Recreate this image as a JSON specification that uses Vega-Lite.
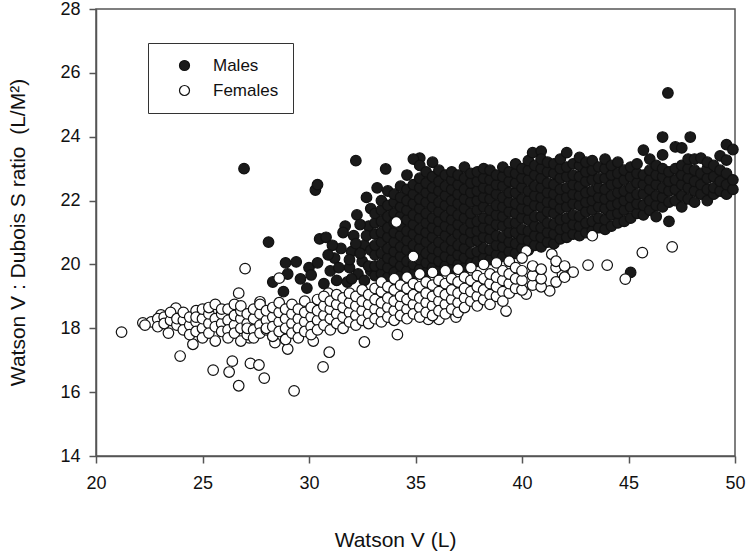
{
"$schema": "https://vega.github.io/schema/vega-lite/v6.json",
"width": 639, "height": 447,
"autosize": {"type": "none"},
"padding": {"left": 96, "top": 9, "right": 15, "bottom": 99},
"config": {"view": {"stroke": "#555", "strokeWidth": 1.5}, "font": "Liberation Sans"},
"datasets": {"pts": [
{"sex":"Males","v":26.95,"r":23.0},{"sex":"Males","v":28.1,"r":20.7},{"sex":"Males","v":28.3,"r":19.45},{"sex":"Males","v":28.8,"r":19.15},{"sex":"Males","v":28.9,"r":20.05},{"sex":"Males","v":29.0,"r":19.7},{"sex":"Males","v":29.4,"r":20.08},{"sex":"Males","v":29.6,"r":19.55},{"sex":"Males","v":29.9,"r":19.26},{"sex":"Males","v":30.0,"r":19.9},{"sex":"Males","v":30.1,"r":19.67},{"sex":"Males","v":30.3,"r":22.33},{"sex":"Males","v":30.4,"r":22.5},{"sex":"Males","v":30.4,"r":20.05},{"sex":"Males","v":30.5,"r":20.8},{"sex":"Males","v":30.8,"r":20.85},{"sex":"Males","v":30.7,"r":19.4},{"sex":"Males","v":31.0,"r":19.8},{"sex":"Males","v":31.2,"r":20.2},{"sex":"Males","v":31.3,"r":19.5},{"sex":"Males","v":31.5,"r":20.5},{"sex":"Males","v":31.7,"r":21.2},{"sex":"Males","v":31.6,"r":21.0},{"sex":"Males","v":31.8,"r":19.45},{"sex":"Males","v":31.9,"r":19.9},{"sex":"Males","v":32.0,"r":20.4},{"sex":"Males","v":32.1,"r":20.9},{"sex":"Males","v":32.2,"r":23.25},{"sex":"Males","v":32.25,"r":21.55},{"sex":"Males","v":32.3,"r":19.7},{"sex":"Males","v":32.5,"r":20.1},{"sex":"Males","v":32.6,"r":20.6},{"sex":"Males","v":32.7,"r":22.1},{"sex":"Males","v":32.8,"r":21.2},{"sex":"Males","v":32.9,"r":19.8},{"sex":"Males","v":32.9,"r":21.75},{"sex":"Males","v":33.2,"r":22.4},{"sex":"Males","v":33.6,"r":22.99},{"sex":"Males","v":35.2,"r":23.33},{"sex":"Males","v":35.8,"r":23.2},
{"sex":"Males","v":31.1,"r":20.6},{"sex":"Males","v":31.4,"r":19.9},{"sex":"Males","v":32.0,"r":19.55},{"sex":"Males","v":32.4,"r":20.35},{"sex":"Males","v":32.6,"r":19.5},{"sex":"Males","v":32.7,"r":20.9},{"sex":"Males","v":32.9,"r":20.45},{"sex":"Males","v":32.4,"r":21.25},{"sex":"Males","v":31.9,"r":20.15},{"sex":"Males","v":30.9,"r":20.3},{"sex":"Males","v":32.8,"r":19.95},{"sex":"Males","v":32.2,"r":20.65},
{"sex":"Males","v":33.1,"r":19.65},{"sex":"Males","v":33.1,"r":19.95},{"sex":"Males","v":33.1,"r":20.3},{"sex":"Males","v":33.1,"r":20.6},{"sex":"Males","v":33.1,"r":20.95},{"sex":"Males","v":33.1,"r":21.3},{"sex":"Males","v":33.1,"r":21.6},
{"sex":"Males","v":33.4,"r":19.7},{"sex":"Males","v":33.4,"r":20.0},{"sex":"Males","v":33.4,"r":20.35},{"sex":"Males","v":33.4,"r":20.7},{"sex":"Males","v":33.4,"r":21.0},{"sex":"Males","v":33.4,"r":21.35},{"sex":"Males","v":33.4,"r":21.7},{"sex":"Males","v":33.4,"r":22.0},
{"sex":"Males","v":33.7,"r":19.6},{"sex":"Males","v":33.7,"r":19.9},{"sex":"Males","v":33.7,"r":20.2},{"sex":"Males","v":33.7,"r":20.5},{"sex":"Males","v":33.7,"r":20.85},{"sex":"Males","v":33.7,"r":21.15},{"sex":"Males","v":33.7,"r":21.5},{"sex":"Males","v":33.7,"r":21.85},{"sex":"Males","v":33.7,"r":22.3},
{"sex":"Males","v":34.0,"r":19.75},{"sex":"Males","v":34.0,"r":20.1},{"sex":"Males","v":34.0,"r":20.4},{"sex":"Males","v":34.0,"r":20.7},{"sex":"Males","v":34.0,"r":21.0},{"sex":"Males","v":34.0,"r":21.3},{"sex":"Males","v":34.0,"r":21.6},{"sex":"Males","v":34.0,"r":21.95},{"sex":"Males","v":34.0,"r":22.2},
{"sex":"Males","v":34.3,"r":19.65},{"sex":"Males","v":34.3,"r":19.95},{"sex":"Males","v":34.3,"r":20.25},{"sex":"Males","v":34.3,"r":20.55},{"sex":"Males","v":34.3,"r":20.9},{"sex":"Males","v":34.3,"r":21.2},{"sex":"Males","v":34.3,"r":21.5},{"sex":"Males","v":34.3,"r":21.8},{"sex":"Males","v":34.3,"r":22.1},{"sex":"Males","v":34.3,"r":22.45},
{"sex":"Males","v":34.6,"r":19.8},{"sex":"Males","v":34.6,"r":20.1},{"sex":"Males","v":34.6,"r":20.45},{"sex":"Males","v":34.6,"r":20.75},{"sex":"Males","v":34.6,"r":21.05},{"sex":"Males","v":34.6,"r":21.4},{"sex":"Males","v":34.6,"r":21.7},{"sex":"Males","v":34.6,"r":22.0},{"sex":"Males","v":34.6,"r":22.35},{"sex":"Males","v":34.6,"r":22.8},
{"sex":"Males","v":34.9,"r":19.7},{"sex":"Males","v":34.9,"r":20.0},{"sex":"Males","v":34.9,"r":20.3},{"sex":"Males","v":34.9,"r":20.6},{"sex":"Males","v":34.9,"r":20.95},{"sex":"Males","v":34.9,"r":21.25},{"sex":"Males","v":34.9,"r":21.55},{"sex":"Males","v":34.9,"r":21.9},{"sex":"Males","v":34.9,"r":22.2},{"sex":"Males","v":34.9,"r":22.5},{"sex":"Males","v":34.9,"r":23.3},
{"sex":"Males","v":35.2,"r":19.85},{"sex":"Males","v":35.2,"r":20.15},{"sex":"Males","v":35.2,"r":20.5},{"sex":"Males","v":35.2,"r":20.8},{"sex":"Males","v":35.2,"r":21.1},{"sex":"Males","v":35.2,"r":21.45},{"sex":"Males","v":35.2,"r":21.75},{"sex":"Males","v":35.2,"r":22.05},{"sex":"Males","v":35.2,"r":22.4},{"sex":"Males","v":35.2,"r":22.7},{"sex":"Males","v":35.2,"r":23.1},
{"sex":"Males","v":35.5,"r":19.75},{"sex":"Males","v":35.5,"r":20.05},{"sex":"Males","v":35.5,"r":20.35},{"sex":"Males","v":35.5,"r":20.7},{"sex":"Males","v":35.5,"r":21.0},{"sex":"Males","v":35.5,"r":21.3},{"sex":"Males","v":35.5,"r":21.6},{"sex":"Males","v":35.5,"r":21.95},{"sex":"Males","v":35.5,"r":22.25},{"sex":"Males","v":35.5,"r":22.55},{"sex":"Males","v":35.5,"r":22.9},
{"sex":"Males","v":35.8,"r":19.9},{"sex":"Males","v":35.8,"r":20.2},{"sex":"Males","v":35.8,"r":20.5},{"sex":"Males","v":35.8,"r":20.85},{"sex":"Males","v":35.8,"r":21.15},{"sex":"Males","v":35.8,"r":21.45},{"sex":"Males","v":35.8,"r":21.8},{"sex":"Males","v":35.8,"r":22.1},{"sex":"Males","v":35.8,"r":22.4},{"sex":"Males","v":35.8,"r":22.75},
{"sex":"Males","v":36.1,"r":19.8},{"sex":"Males","v":36.1,"r":20.1},{"sex":"Males","v":36.1,"r":20.4},{"sex":"Males","v":36.1,"r":20.7},{"sex":"Males","v":36.1,"r":21.05},{"sex":"Males","v":36.1,"r":21.35},{"sex":"Males","v":36.1,"r":21.65},{"sex":"Males","v":36.1,"r":21.95},{"sex":"Males","v":36.1,"r":22.3},{"sex":"Males","v":36.1,"r":22.6},{"sex":"Males","v":36.1,"r":22.95},
{"sex":"Males","v":36.4,"r":19.95},{"sex":"Males","v":36.4,"r":20.25},{"sex":"Males","v":36.4,"r":20.55},{"sex":"Males","v":36.4,"r":20.9},{"sex":"Males","v":36.4,"r":21.2},{"sex":"Males","v":36.4,"r":21.5},{"sex":"Males","v":36.4,"r":21.85},{"sex":"Males","v":36.4,"r":22.15},{"sex":"Males","v":36.4,"r":22.45},{"sex":"Males","v":36.4,"r":22.8},
{"sex":"Males","v":36.7,"r":19.85},{"sex":"Males","v":36.7,"r":20.15},{"sex":"Males","v":36.7,"r":20.45},{"sex":"Males","v":36.7,"r":20.75},{"sex":"Males","v":36.7,"r":21.1},{"sex":"Males","v":36.7,"r":21.4},{"sex":"Males","v":36.7,"r":21.7},{"sex":"Males","v":36.7,"r":22.0},{"sex":"Males","v":36.7,"r":22.35},{"sex":"Males","v":36.7,"r":22.65},{"sex":"Males","v":36.7,"r":22.9},
{"sex":"Males","v":37.0,"r":20.0},{"sex":"Males","v":37.0,"r":20.3},{"sex":"Males","v":37.0,"r":20.6},{"sex":"Males","v":37.0,"r":20.95},{"sex":"Males","v":37.0,"r":21.25},{"sex":"Males","v":37.0,"r":21.55},{"sex":"Males","v":37.0,"r":21.9},{"sex":"Males","v":37.0,"r":22.2},{"sex":"Males","v":37.0,"r":22.5},{"sex":"Males","v":37.0,"r":22.8},
{"sex":"Males","v":37.3,"r":19.9},{"sex":"Males","v":37.3,"r":20.2},{"sex":"Males","v":37.3,"r":20.5},{"sex":"Males","v":37.3,"r":20.8},{"sex":"Males","v":37.3,"r":21.1},{"sex":"Males","v":37.3,"r":21.45},{"sex":"Males","v":37.3,"r":21.75},{"sex":"Males","v":37.3,"r":22.05},{"sex":"Males","v":37.3,"r":22.35},{"sex":"Males","v":37.3,"r":22.7},{"sex":"Males","v":37.3,"r":23.05},
{"sex":"Males","v":37.6,"r":20.05},{"sex":"Males","v":37.6,"r":20.35},{"sex":"Males","v":37.6,"r":20.7},{"sex":"Males","v":37.6,"r":21.0},{"sex":"Males","v":37.6,"r":21.3},{"sex":"Males","v":37.6,"r":21.6},{"sex":"Males","v":37.6,"r":21.95},{"sex":"Males","v":37.6,"r":22.25},{"sex":"Males","v":37.6,"r":22.55},{"sex":"Males","v":37.6,"r":22.85},
{"sex":"Males","v":37.9,"r":20.1},{"sex":"Males","v":37.9,"r":20.4},{"sex":"Males","v":37.9,"r":20.75},{"sex":"Males","v":37.9,"r":21.05},{"sex":"Males","v":37.9,"r":21.35},{"sex":"Males","v":37.9,"r":21.7},{"sex":"Males","v":37.9,"r":22.0},{"sex":"Males","v":37.9,"r":22.3},{"sex":"Males","v":37.9,"r":22.6},{"sex":"Males","v":37.9,"r":22.9},
{"sex":"Males","v":38.2,"r":20.2},{"sex":"Males","v":38.2,"r":20.5},{"sex":"Males","v":38.2,"r":20.85},{"sex":"Males","v":38.2,"r":21.15},{"sex":"Males","v":38.2,"r":21.45},{"sex":"Males","v":38.2,"r":21.8},{"sex":"Males","v":38.2,"r":22.1},{"sex":"Males","v":38.2,"r":22.4},{"sex":"Males","v":38.2,"r":22.7},{"sex":"Males","v":38.2,"r":23.0},
{"sex":"Males","v":38.5,"r":20.15},{"sex":"Males","v":38.5,"r":20.45},{"sex":"Males","v":38.5,"r":20.8},{"sex":"Males","v":38.5,"r":21.1},{"sex":"Males","v":38.5,"r":21.4},{"sex":"Males","v":38.5,"r":21.7},{"sex":"Males","v":38.5,"r":22.05},{"sex":"Males","v":38.5,"r":22.35},{"sex":"Males","v":38.5,"r":22.65},{"sex":"Males","v":38.5,"r":22.95},
{"sex":"Males","v":38.8,"r":20.3},{"sex":"Males","v":38.8,"r":20.6},{"sex":"Males","v":38.8,"r":20.9},{"sex":"Males","v":38.8,"r":21.25},{"sex":"Males","v":38.8,"r":21.55},{"sex":"Males","v":38.8,"r":21.85},{"sex":"Males","v":38.8,"r":22.2},{"sex":"Males","v":38.8,"r":22.5},{"sex":"Males","v":38.8,"r":22.8},
{"sex":"Males","v":39.1,"r":20.25},{"sex":"Males","v":39.1,"r":20.55},{"sex":"Males","v":39.1,"r":20.85},{"sex":"Males","v":39.1,"r":21.2},{"sex":"Males","v":39.1,"r":21.5},{"sex":"Males","v":39.1,"r":21.8},{"sex":"Males","v":39.1,"r":22.1},{"sex":"Males","v":39.1,"r":22.45},{"sex":"Males","v":39.1,"r":22.75},{"sex":"Males","v":39.1,"r":23.05},
{"sex":"Males","v":39.4,"r":20.4},{"sex":"Males","v":39.4,"r":20.7},{"sex":"Males","v":39.4,"r":21.0},{"sex":"Males","v":39.4,"r":21.3},{"sex":"Males","v":39.4,"r":21.65},{"sex":"Males","v":39.4,"r":21.95},{"sex":"Males","v":39.4,"r":22.25},{"sex":"Males","v":39.4,"r":22.6},{"sex":"Males","v":39.4,"r":22.9},
{"sex":"Males","v":39.7,"r":20.35},{"sex":"Males","v":39.7,"r":20.65},{"sex":"Males","v":39.7,"r":21.0},{"sex":"Males","v":39.7,"r":21.3},{"sex":"Males","v":39.7,"r":21.6},{"sex":"Males","v":39.7,"r":21.9},{"sex":"Males","v":39.7,"r":22.25},{"sex":"Males","v":39.7,"r":22.55},{"sex":"Males","v":39.7,"r":22.85},{"sex":"Males","v":39.7,"r":23.15},
{"sex":"Males","v":40.0,"r":20.5},{"sex":"Males","v":40.0,"r":20.8},{"sex":"Males","v":40.0,"r":21.1},{"sex":"Males","v":40.0,"r":21.45},{"sex":"Males","v":40.0,"r":21.75},{"sex":"Males","v":40.0,"r":22.05},{"sex":"Males","v":40.0,"r":22.4},{"sex":"Males","v":40.0,"r":22.7},{"sex":"Males","v":40.0,"r":23.0},
{"sex":"Males","v":40.3,"r":20.45},{"sex":"Males","v":40.3,"r":20.75},{"sex":"Males","v":40.3,"r":21.05},{"sex":"Males","v":40.3,"r":21.4},{"sex":"Males","v":40.3,"r":21.7},{"sex":"Males","v":40.3,"r":22.0},{"sex":"Males","v":40.3,"r":22.3},{"sex":"Males","v":40.3,"r":22.65},{"sex":"Males","v":40.3,"r":22.95},{"sex":"Males","v":40.3,"r":23.25},
{"sex":"Males","v":40.5,"r":23.5},{"sex":"Males","v":40.9,"r":23.55},
{"sex":"Males","v":40.6,"r":20.6},{"sex":"Males","v":40.6,"r":20.9},{"sex":"Males","v":40.6,"r":21.2},{"sex":"Males","v":40.6,"r":21.5},{"sex":"Males","v":40.6,"r":21.85},{"sex":"Males","v":40.6,"r":22.15},{"sex":"Males","v":40.6,"r":22.45},{"sex":"Males","v":40.6,"r":22.8},{"sex":"Males","v":40.6,"r":23.1},
{"sex":"Males","v":40.9,"r":20.55},{"sex":"Males","v":40.9,"r":20.85},{"sex":"Males","v":40.9,"r":21.15},{"sex":"Males","v":40.9,"r":21.5},{"sex":"Males","v":40.9,"r":21.8},{"sex":"Males","v":40.9,"r":22.1},{"sex":"Males","v":40.9,"r":22.4},{"sex":"Males","v":40.9,"r":22.7},{"sex":"Males","v":40.9,"r":23.0},{"sex":"Males","v":40.9,"r":23.3},
{"sex":"Males","v":41.2,"r":20.7},{"sex":"Males","v":41.2,"r":21.0},{"sex":"Males","v":41.2,"r":21.3},{"sex":"Males","v":41.2,"r":21.65},{"sex":"Males","v":41.2,"r":21.95},{"sex":"Males","v":41.2,"r":22.25},{"sex":"Males","v":41.2,"r":22.55},{"sex":"Males","v":41.2,"r":22.9},{"sex":"Males","v":41.2,"r":23.2},
{"sex":"Males","v":41.5,"r":20.65},{"sex":"Males","v":41.5,"r":20.95},{"sex":"Males","v":41.5,"r":21.25},{"sex":"Males","v":41.5,"r":21.6},{"sex":"Males","v":41.5,"r":21.9},{"sex":"Males","v":41.5,"r":22.2},{"sex":"Males","v":41.5,"r":22.5},{"sex":"Males","v":41.5,"r":22.85},{"sex":"Males","v":41.5,"r":23.15},
{"sex":"Males","v":41.8,"r":20.8},{"sex":"Males","v":41.8,"r":21.1},{"sex":"Males","v":41.8,"r":21.4},{"sex":"Males","v":41.8,"r":21.75},{"sex":"Males","v":41.8,"r":22.05},{"sex":"Males","v":41.8,"r":22.35},{"sex":"Males","v":41.8,"r":22.7},{"sex":"Males","v":41.8,"r":23.0},{"sex":"Males","v":41.8,"r":23.3},
{"sex":"Males","v":42.1,"r":20.85},{"sex":"Males","v":42.1,"r":21.15},{"sex":"Males","v":42.1,"r":21.45},{"sex":"Males","v":42.1,"r":21.8},{"sex":"Males","v":42.1,"r":22.1},{"sex":"Males","v":42.1,"r":22.4},{"sex":"Males","v":42.1,"r":22.75},{"sex":"Males","v":42.1,"r":23.05},{"sex":"Males","v":42.1,"r":23.5},
{"sex":"Males","v":42.4,"r":20.95},{"sex":"Males","v":42.4,"r":21.25},{"sex":"Males","v":42.4,"r":21.55},{"sex":"Males","v":42.4,"r":21.9},{"sex":"Males","v":42.4,"r":22.2},{"sex":"Males","v":42.4,"r":22.5},{"sex":"Males","v":42.4,"r":22.8},{"sex":"Males","v":42.4,"r":23.15},
{"sex":"Males","v":42.7,"r":20.9},{"sex":"Males","v":42.7,"r":21.2},{"sex":"Males","v":42.7,"r":21.5},{"sex":"Males","v":42.7,"r":21.85},{"sex":"Males","v":42.7,"r":22.15},{"sex":"Males","v":42.7,"r":22.45},{"sex":"Males","v":42.7,"r":22.75},{"sex":"Males","v":42.7,"r":23.1},{"sex":"Males","v":42.7,"r":23.35},
{"sex":"Males","v":43.0,"r":21.0},{"sex":"Males","v":43.0,"r":21.3},{"sex":"Males","v":43.0,"r":21.65},{"sex":"Males","v":43.0,"r":21.95},{"sex":"Males","v":43.0,"r":22.25},{"sex":"Males","v":43.0,"r":22.6},{"sex":"Males","v":43.0,"r":22.9},{"sex":"Males","v":43.0,"r":23.2},
{"sex":"Males","v":43.3,"r":21.05},{"sex":"Males","v":43.3,"r":21.35},{"sex":"Males","v":43.3,"r":21.7},{"sex":"Males","v":43.3,"r":22.0},{"sex":"Males","v":43.3,"r":22.3},{"sex":"Males","v":43.3,"r":22.65},{"sex":"Males","v":43.3,"r":22.95},{"sex":"Males","v":43.3,"r":23.25},
{"sex":"Males","v":43.6,"r":21.15},{"sex":"Males","v":43.6,"r":21.45},{"sex":"Males","v":43.6,"r":21.8},{"sex":"Males","v":43.6,"r":22.1},{"sex":"Males","v":43.6,"r":22.4},{"sex":"Males","v":43.6,"r":22.7},{"sex":"Males","v":43.6,"r":23.05},
{"sex":"Males","v":43.9,"r":21.1},{"sex":"Males","v":43.9,"r":21.4},{"sex":"Males","v":43.9,"r":21.75},{"sex":"Males","v":43.9,"r":22.05},{"sex":"Males","v":43.9,"r":22.35},{"sex":"Males","v":43.9,"r":22.7},{"sex":"Males","v":43.9,"r":23.0},{"sex":"Males","v":43.9,"r":23.3},
{"sex":"Males","v":44.2,"r":21.2},{"sex":"Males","v":44.2,"r":21.55},{"sex":"Males","v":44.2,"r":21.85},{"sex":"Males","v":44.2,"r":22.15},{"sex":"Males","v":44.2,"r":22.5},{"sex":"Males","v":44.2,"r":22.8},{"sex":"Males","v":44.2,"r":23.1},
{"sex":"Males","v":44.5,"r":21.3},{"sex":"Males","v":44.5,"r":21.6},{"sex":"Males","v":44.5,"r":21.9},{"sex":"Males","v":44.5,"r":22.25},{"sex":"Males","v":44.5,"r":22.55},{"sex":"Males","v":44.5,"r":22.85},{"sex":"Males","v":44.5,"r":23.2},
{"sex":"Males","v":44.8,"r":21.35},{"sex":"Males","v":44.8,"r":21.7},{"sex":"Males","v":44.8,"r":22.0},{"sex":"Males","v":44.8,"r":22.3},{"sex":"Males","v":44.8,"r":22.65},{"sex":"Males","v":44.8,"r":22.95},
{"sex":"Males","v":45.1,"r":21.45},{"sex":"Males","v":45.1,"r":21.8},{"sex":"Males","v":45.1,"r":22.1},{"sex":"Males","v":45.1,"r":22.4},{"sex":"Males","v":45.1,"r":22.75},{"sex":"Males","v":45.1,"r":23.05},{"sex":"Males","v":45.1,"r":19.75},
{"sex":"Males","v":45.4,"r":21.6},{"sex":"Males","v":45.4,"r":21.9},{"sex":"Males","v":45.4,"r":22.2},{"sex":"Males","v":45.4,"r":22.55},{"sex":"Males","v":45.4,"r":22.85},{"sex":"Males","v":45.4,"r":23.15},
{"sex":"Males","v":45.7,"r":21.55},{"sex":"Males","v":45.7,"r":21.85},{"sex":"Males","v":45.7,"r":22.2},{"sex":"Males","v":45.7,"r":22.5},{"sex":"Males","v":45.7,"r":22.8},{"sex":"Males","v":45.7,"r":23.58},
{"sex":"Males","v":46.0,"r":21.7},{"sex":"Males","v":46.0,"r":22.0},{"sex":"Males","v":46.0,"r":22.35},{"sex":"Males","v":46.0,"r":22.65},{"sex":"Males","v":46.0,"r":22.95},{"sex":"Males","v":46.0,"r":23.3},
{"sex":"Males","v":46.3,"r":21.5},{"sex":"Males","v":46.3,"r":21.85},{"sex":"Males","v":46.3,"r":22.15},{"sex":"Males","v":46.3,"r":22.5},{"sex":"Males","v":46.3,"r":22.8},{"sex":"Males","v":46.3,"r":23.1},
{"sex":"Males","v":46.6,"r":21.8},{"sex":"Males","v":46.6,"r":22.1},{"sex":"Males","v":46.6,"r":22.4},{"sex":"Males","v":46.6,"r":22.75},{"sex":"Males","v":46.6,"r":23.0},{"sex":"Males","v":46.6,"r":23.43},{"sex":"Males","v":46.6,"r":23.99},
{"sex":"Males","v":46.85,"r":25.37},
{"sex":"Males","v":46.9,"r":21.35},{"sex":"Males","v":46.9,"r":21.95},{"sex":"Males","v":46.9,"r":22.3},{"sex":"Males","v":46.9,"r":22.6},{"sex":"Males","v":46.9,"r":22.9},
{"sex":"Males","v":47.2,"r":22.0},{"sex":"Males","v":47.2,"r":22.35},{"sex":"Males","v":47.2,"r":22.65},{"sex":"Males","v":47.2,"r":23.0},{"sex":"Males","v":47.2,"r":23.68},
{"sex":"Males","v":47.5,"r":21.8},{"sex":"Males","v":47.5,"r":22.15},{"sex":"Males","v":47.5,"r":22.5},{"sex":"Males","v":47.5,"r":22.8},{"sex":"Males","v":47.5,"r":23.1},{"sex":"Males","v":47.5,"r":23.65},
{"sex":"Males","v":47.8,"r":22.05},{"sex":"Males","v":47.8,"r":22.4},{"sex":"Males","v":47.8,"r":22.7},{"sex":"Males","v":47.8,"r":23.0},{"sex":"Males","v":47.8,"r":23.3},{"sex":"Males","v":47.9,"r":23.99},
{"sex":"Males","v":48.1,"r":21.95},{"sex":"Males","v":48.1,"r":22.3},{"sex":"Males","v":48.1,"r":22.6},{"sex":"Males","v":48.1,"r":22.95},{"sex":"Males","v":48.1,"r":23.3},
{"sex":"Males","v":48.4,"r":22.2},{"sex":"Males","v":48.4,"r":22.5},{"sex":"Males","v":48.4,"r":22.85},{"sex":"Males","v":48.4,"r":23.33},
{"sex":"Males","v":48.7,"r":22.0},{"sex":"Males","v":48.7,"r":22.35},{"sex":"Males","v":48.7,"r":22.7},{"sex":"Males","v":48.7,"r":23.0},{"sex":"Males","v":48.7,"r":23.2},
{"sex":"Males","v":49.0,"r":22.2},{"sex":"Males","v":49.0,"r":22.4},{"sex":"Males","v":49.0,"r":22.75},{"sex":"Males","v":49.0,"r":23.1},
{"sex":"Males","v":49.3,"r":22.3},{"sex":"Males","v":49.3,"r":22.6},{"sex":"Males","v":49.3,"r":22.95},{"sex":"Males","v":49.3,"r":23.4},
{"sex":"Males","v":49.6,"r":22.2},{"sex":"Males","v":49.6,"r":22.5},{"sex":"Males","v":49.6,"r":22.85},{"sex":"Males","v":49.6,"r":23.27},{"sex":"Males","v":49.6,"r":23.75},
{"sex":"Males","v":49.9,"r":22.35},{"sex":"Males","v":49.9,"r":22.65},{"sex":"Males","v":49.9,"r":23.6},
{"sex":"Females","v":21.2,"r":17.88},{"sex":"Females","v":22.2,"r":18.17},{"sex":"Females","v":22.6,"r":18.2},{"sex":"Females","v":23.05,"r":18.42},{"sex":"Females","v":23.75,"r":18.63},{"sex":"Females","v":23.4,"r":17.85},{"sex":"Females","v":23.95,"r":17.13},{"sex":"Females","v":24.55,"r":17.5},{"sex":"Females","v":25.5,"r":16.69},{"sex":"Females","v":26.25,"r":16.63},{"sex":"Females","v":26.4,"r":16.97},{"sex":"Females","v":26.7,"r":16.2},{"sex":"Females","v":27.25,"r":16.9},{"sex":"Females","v":27.65,"r":16.85},{"sex":"Females","v":27.9,"r":16.44},{"sex":"Females","v":29.3,"r":16.04},{"sex":"Females","v":30.66,"r":16.79},{"sex":"Females","v":30.95,"r":17.25},{"sex":"Females","v":27.0,"r":19.87},{"sex":"Females","v":26.7,"r":19.1},{"sex":"Females","v":34.15,"r":17.8},{"sex":"Females","v":32.6,"r":17.57},{"sex":"Females","v":29.0,"r":17.35},{"sex":"Females","v":28.6,"r":19.57},{"sex":"Females","v":34.9,"r":20.25},{"sex":"Females","v":34.1,"r":21.33},{"sex":"Females","v":40.2,"r":20.42},{"sex":"Females","v":41.4,"r":20.32},{"sex":"Females","v":44.0,"r":19.98},{"sex":"Females","v":43.1,"r":19.98},{"sex":"Females","v":41.9,"r":19.7},{"sex":"Females","v":42.4,"r":19.76},{"sex":"Females","v":40.2,"r":19.07},{"sex":"Females","v":41.3,"r":19.17},{"sex":"Females","v":39.25,"r":18.54},{"sex":"Females","v":36.9,"r":18.35},{"sex":"Females","v":36.1,"r":18.28},{"sex":"Females","v":35.6,"r":18.28},{"sex":"Females","v":44.85,"r":19.54},{"sex":"Females","v":45.65,"r":20.37},{"sex":"Females","v":47.05,"r":20.55},{"sex":"Females","v":43.3,"r":20.9},{"sex":"Females","v":30.9,"r":19.1},{"sex":"Females","v":27.7,"r":18.83},{"sex":"Females","v":27.2,"r":17.7},{"sex":"Females","v":28.4,"r":17.55},{"sex":"Females","v":30.2,"r":17.6},
{"sex":"Females","v":22.3,"r":18.1},{"sex":"Females","v":22.9,"r":18.3},{"sex":"Females","v":22.9,"r":18.05},{"sex":"Females","v":23.2,"r":18.35},{"sex":"Females","v":23.2,"r":18.15},{"sex":"Females","v":23.5,"r":18.25},{"sex":"Females","v":23.5,"r":18.5},{"sex":"Females","v":23.8,"r":18.1},{"sex":"Females","v":23.8,"r":18.3},
{"sex":"Females","v":24.1,"r":18.25},{"sex":"Females","v":24.1,"r":17.95},{"sex":"Females","v":24.1,"r":18.5},{"sex":"Females","v":24.4,"r":18.1},{"sex":"Females","v":24.4,"r":18.35},{"sex":"Females","v":24.4,"r":17.8},
{"sex":"Females","v":24.7,"r":18.2},{"sex":"Females","v":24.7,"r":18.55},{"sex":"Females","v":24.7,"r":17.9},{"sex":"Females","v":24.7,"r":18.35},
{"sex":"Females","v":25.0,"r":18.0},{"sex":"Females","v":25.0,"r":18.3},{"sex":"Females","v":25.0,"r":18.6},{"sex":"Females","v":25.0,"r":17.7},
{"sex":"Females","v":25.3,"r":18.15},{"sex":"Females","v":25.3,"r":18.45},{"sex":"Females","v":25.3,"r":17.85},{"sex":"Females","v":25.3,"r":18.65},
{"sex":"Females","v":25.6,"r":18.3},{"sex":"Females","v":25.6,"r":18.05},{"sex":"Females","v":25.6,"r":18.75},{"sex":"Females","v":25.6,"r":17.6},
{"sex":"Females","v":25.9,"r":18.15},{"sex":"Females","v":25.9,"r":18.45},{"sex":"Females","v":25.9,"r":17.9},{"sex":"Females","v":25.9,"r":18.6},
{"sex":"Females","v":26.2,"r":18.25},{"sex":"Females","v":26.2,"r":17.95},{"sex":"Females","v":26.2,"r":18.6},{"sex":"Females","v":26.2,"r":17.7},
{"sex":"Females","v":26.5,"r":18.1},{"sex":"Females","v":26.5,"r":18.4},{"sex":"Females","v":26.5,"r":18.75},{"sex":"Females","v":26.5,"r":17.85},
{"sex":"Females","v":26.8,"r":18.3},{"sex":"Females","v":26.8,"r":18.0},{"sex":"Females","v":26.8,"r":18.55},{"sex":"Females","v":26.8,"r":18.7},{"sex":"Females","v":26.8,"r":17.6},
{"sex":"Females","v":27.1,"r":18.15},{"sex":"Females","v":27.1,"r":18.45},{"sex":"Females","v":27.1,"r":17.8},{"sex":"Females","v":27.1,"r":18.0},
{"sex":"Females","v":27.4,"r":18.3},{"sex":"Females","v":27.4,"r":18.6},{"sex":"Females","v":27.4,"r":17.95},{"sex":"Females","v":27.4,"r":17.7},
{"sex":"Females","v":27.7,"r":18.1},{"sex":"Females","v":27.7,"r":18.45},{"sex":"Females","v":27.7,"r":18.75},{"sex":"Females","v":27.7,"r":17.85},
{"sex":"Females","v":28.0,"r":18.25},{"sex":"Females","v":28.0,"r":17.95},{"sex":"Females","v":28.0,"r":18.55},{"sex":"Females","v":28.0,"r":18.0},
{"sex":"Females","v":28.3,"r":18.35},{"sex":"Females","v":28.3,"r":18.05},{"sex":"Females","v":28.3,"r":17.75},{"sex":"Females","v":28.3,"r":18.65},
{"sex":"Females","v":28.6,"r":18.2},{"sex":"Females","v":28.6,"r":18.5},{"sex":"Females","v":28.6,"r":17.9},{"sex":"Females","v":28.6,"r":18.8},
{"sex":"Females","v":28.9,"r":18.3},{"sex":"Females","v":28.9,"r":18.0},{"sex":"Females","v":28.9,"r":18.6},{"sex":"Females","v":28.9,"r":17.65},
{"sex":"Females","v":29.2,"r":18.15},{"sex":"Females","v":29.2,"r":18.45},{"sex":"Females","v":29.2,"r":17.85},{"sex":"Females","v":29.2,"r":18.75},
{"sex":"Females","v":29.5,"r":18.3},{"sex":"Females","v":29.5,"r":18.6},{"sex":"Females","v":29.5,"r":18.0},{"sex":"Females","v":29.5,"r":17.7},
{"sex":"Females","v":29.8,"r":18.2},{"sex":"Females","v":29.8,"r":18.5},{"sex":"Females","v":29.8,"r":18.85},{"sex":"Females","v":29.8,"r":17.9},
{"sex":"Females","v":30.1,"r":18.35},{"sex":"Females","v":30.1,"r":18.05},{"sex":"Females","v":30.1,"r":18.65},{"sex":"Females","v":30.1,"r":17.8},
{"sex":"Females","v":30.4,"r":18.25},{"sex":"Females","v":30.4,"r":18.55},{"sex":"Females","v":30.4,"r":18.9},{"sex":"Females","v":30.4,"r":17.95},
{"sex":"Females","v":30.7,"r":18.4},{"sex":"Females","v":30.7,"r":18.1},{"sex":"Females","v":30.7,"r":18.7},{"sex":"Females","v":30.7,"r":19.0},
{"sex":"Females","v":31.0,"r":18.3},{"sex":"Females","v":31.0,"r":18.6},{"sex":"Females","v":31.0,"r":17.95},{"sex":"Females","v":31.0,"r":18.85},
{"sex":"Females","v":31.3,"r":18.45},{"sex":"Females","v":31.3,"r":18.15},{"sex":"Females","v":31.3,"r":18.75},{"sex":"Females","v":31.3,"r":19.05},
{"sex":"Females","v":31.6,"r":18.35},{"sex":"Females","v":31.6,"r":18.65},{"sex":"Females","v":31.6,"r":18.0},{"sex":"Females","v":31.6,"r":18.95},
{"sex":"Females","v":31.9,"r":18.5},{"sex":"Females","v":31.9,"r":18.2},{"sex":"Females","v":31.9,"r":18.8},{"sex":"Females","v":31.9,"r":19.1},
{"sex":"Females","v":32.2,"r":18.4},{"sex":"Females","v":32.2,"r":18.7},{"sex":"Females","v":32.2,"r":18.1},{"sex":"Females","v":32.2,"r":19.0},
{"sex":"Females","v":32.5,"r":18.55},{"sex":"Females","v":32.5,"r":18.25},{"sex":"Females","v":32.5,"r":18.85},{"sex":"Females","v":32.5,"r":19.2},
{"sex":"Females","v":32.8,"r":18.45},{"sex":"Females","v":32.8,"r":18.75},{"sex":"Females","v":32.8,"r":18.15},{"sex":"Females","v":32.8,"r":19.05},
{"sex":"Females","v":33.1,"r":18.6},{"sex":"Females","v":33.1,"r":18.3},{"sex":"Females","v":33.1,"r":18.9},{"sex":"Females","v":33.1,"r":19.25},
{"sex":"Females","v":33.4,"r":18.5},{"sex":"Females","v":33.4,"r":18.8},{"sex":"Females","v":33.4,"r":18.2},{"sex":"Females","v":33.4,"r":19.15},{"sex":"Females","v":33.4,"r":19.45},
{"sex":"Females","v":33.7,"r":18.65},{"sex":"Females","v":33.7,"r":18.35},{"sex":"Females","v":33.7,"r":18.95},{"sex":"Females","v":33.7,"r":19.3},
{"sex":"Females","v":34.0,"r":18.55},{"sex":"Females","v":34.0,"r":18.85},{"sex":"Females","v":34.0,"r":18.25},{"sex":"Females","v":34.0,"r":19.2},{"sex":"Females","v":34.0,"r":19.55},
{"sex":"Females","v":34.3,"r":18.7},{"sex":"Females","v":34.3,"r":18.4},{"sex":"Females","v":34.3,"r":19.0},{"sex":"Females","v":34.3,"r":19.35},
{"sex":"Females","v":34.6,"r":18.6},{"sex":"Females","v":34.6,"r":18.9},{"sex":"Females","v":34.6,"r":18.3},{"sex":"Females","v":34.6,"r":19.25},{"sex":"Females","v":34.6,"r":19.6},
{"sex":"Females","v":34.9,"r":18.75},{"sex":"Females","v":34.9,"r":18.45},{"sex":"Females","v":34.9,"r":19.05},{"sex":"Females","v":34.9,"r":19.4},
{"sex":"Females","v":35.2,"r":18.65},{"sex":"Females","v":35.2,"r":18.95},{"sex":"Females","v":35.2,"r":18.35},{"sex":"Females","v":35.2,"r":19.3},{"sex":"Females","v":35.2,"r":19.7},
{"sex":"Females","v":35.5,"r":18.8},{"sex":"Females","v":35.5,"r":18.5},{"sex":"Females","v":35.5,"r":19.1},{"sex":"Females","v":35.5,"r":19.45},
{"sex":"Females","v":35.8,"r":18.7},{"sex":"Females","v":35.8,"r":19.0},{"sex":"Females","v":35.8,"r":18.4},{"sex":"Females","v":35.8,"r":19.35},{"sex":"Females","v":35.8,"r":19.75},
{"sex":"Females","v":36.1,"r":18.85},{"sex":"Females","v":36.1,"r":18.55},{"sex":"Females","v":36.1,"r":19.15},{"sex":"Females","v":36.1,"r":19.5},
{"sex":"Females","v":36.4,"r":18.75},{"sex":"Females","v":36.4,"r":19.05},{"sex":"Females","v":36.4,"r":18.45},{"sex":"Females","v":36.4,"r":19.4},{"sex":"Females","v":36.4,"r":19.8},
{"sex":"Females","v":36.7,"r":18.9},{"sex":"Females","v":36.7,"r":18.6},{"sex":"Females","v":36.7,"r":19.2},{"sex":"Females","v":36.7,"r":19.55},
{"sex":"Females","v":37.0,"r":18.8},{"sex":"Females","v":37.0,"r":19.1},{"sex":"Females","v":37.0,"r":18.5},{"sex":"Females","v":37.0,"r":19.45},{"sex":"Females","v":37.0,"r":19.85},
{"sex":"Females","v":37.3,"r":18.95},{"sex":"Females","v":37.3,"r":18.65},{"sex":"Females","v":37.3,"r":19.25},{"sex":"Females","v":37.3,"r":19.6},
{"sex":"Females","v":37.6,"r":18.85},{"sex":"Females","v":37.6,"r":19.15},{"sex":"Females","v":37.6,"r":19.5},{"sex":"Females","v":37.6,"r":19.9},
{"sex":"Females","v":37.9,"r":19.0},{"sex":"Females","v":37.9,"r":18.7},{"sex":"Females","v":37.9,"r":19.3},{"sex":"Females","v":37.9,"r":19.65},
{"sex":"Females","v":38.2,"r":18.9},{"sex":"Females","v":38.2,"r":19.2},{"sex":"Females","v":38.2,"r":19.55},{"sex":"Females","v":38.2,"r":20.0},
{"sex":"Females","v":38.5,"r":19.05},{"sex":"Females","v":38.5,"r":18.75},{"sex":"Females","v":38.5,"r":19.4},{"sex":"Females","v":38.5,"r":19.7},
{"sex":"Females","v":38.8,"r":19.0},{"sex":"Females","v":38.8,"r":19.3},{"sex":"Females","v":38.8,"r":19.6},{"sex":"Females","v":38.8,"r":20.05},
{"sex":"Females","v":39.1,"r":19.15},{"sex":"Females","v":39.1,"r":18.85},{"sex":"Females","v":39.1,"r":19.5},{"sex":"Females","v":39.1,"r":19.8},
{"sex":"Females","v":39.4,"r":19.1},{"sex":"Females","v":39.4,"r":19.4},{"sex":"Females","v":39.4,"r":19.7},{"sex":"Females","v":39.4,"r":20.1},
{"sex":"Females","v":39.7,"r":19.25},{"sex":"Females","v":39.7,"r":19.55},{"sex":"Females","v":39.7,"r":19.9},
{"sex":"Females","v":40.0,"r":19.2},{"sex":"Females","v":40.0,"r":19.5},{"sex":"Females","v":40.0,"r":19.8},{"sex":"Females","v":40.0,"r":20.2},
{"sex":"Females","v":40.5,"r":19.35},{"sex":"Females","v":40.5,"r":19.65},{"sex":"Females","v":40.5,"r":19.95},
{"sex":"Females","v":40.9,"r":19.3},{"sex":"Females","v":40.9,"r":19.55},{"sex":"Females","v":40.9,"r":19.85},
{"sex":"Females","v":41.6,"r":19.45},{"sex":"Females","v":41.6,"r":19.9},{"sex":"Females","v":41.6,"r":20.1},
{"sex":"Females","v":42.0,"r":19.6},{"sex":"Females","v":42.0,"r":19.95}
]},
"data": {"name": "pts"},
"mark": {"type": "point", "shape": "circle", "filled": true, "size": 112, "stroke": "#111", "strokeWidth": 1.2, "opacity": 1},
"encoding": {
 "x": {"field": "v", "type": "quantitative",
  "scale": {"domain": [20, 50], "nice": false, "zero": false},
  "axis": {"values": [20,25,30,35,40,45,50], "title": "Watson V (L)", "grid": false, "tickSize": 7, "tickWidth": 1.5, "tickColor": "#555", "domainColor": "#555", "domainWidth": 1.5, "labelFontSize": 18, "labelPadding": 11, "labelColor": "#111", "labelFont": "Liberation Sans", "labelFlush": false, "titleFont": "Liberation Sans", "titleFontSize": 21, "titleFontWeight": "normal", "titleColor": "#111", "titleX": 299, "titleY": 90, "titleAlign": "center", "titleBaseline": "alphabetic"}},
 "y": {"field": "r", "type": "quantitative",
  "scale": {"domain": [14, 28], "nice": false, "zero": false},
  "axis": {"values": [14,16,18,20,22,24,26,28], "title": "Watson V : Dubois S ratio\u00a0 (L/M²)", "grid": false, "tickSize": 7, "tickWidth": 1.5, "tickColor": "#555", "domainColor": "#555", "domainWidth": 1.5, "labelFontSize": 18, "labelPadding": 9, "labelColor": "#111", "labelFont": "Liberation Sans", "labelFlush": false, "titleFont": "Liberation Sans", "titleFontSize": 21, "titleFontWeight": "normal", "titleColor": "#111", "titleX": -72, "titleY": 223, "titleAngle": -90, "titleAlign": "center", "titleBaseline": "alphabetic"}},
 "fill": {"field": "sex", "type": "nominal",
  "scale": {"domain": ["Males", "Females"], "range": ["#1a1a1a", "#ffffff"]},
  "legend": {"title": null, "orient": "none", "legendX": 52, "legendY": 34, "strokeColor": "#333", "fillColor": "white", "padding": 14, "labelFontSize": 17, "labelFont": "Liberation Sans", "labelColor": "#111", "symbolType": "circle", "symbolSize": 100, "symbolStrokeColor": "#111", "symbolStrokeWidth": 1.2, "symbolOpacity": 1, "symbolOffset": 14, "labelOffset": 20, "rowPadding": 7}}
}
}
